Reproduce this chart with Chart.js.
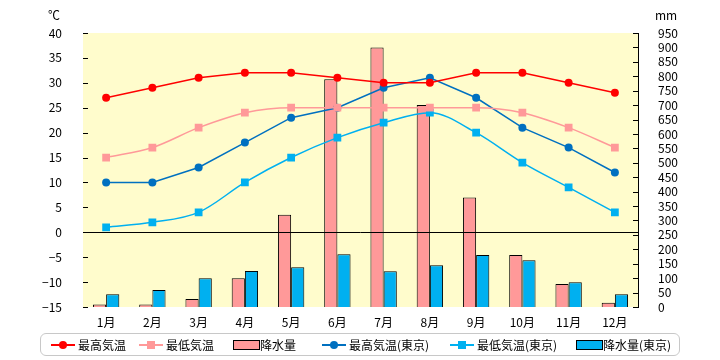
<!DOCTYPE html>
<html>
<head>
<meta charset="utf-8">
<script src="https://cdn.jsdelivr.net/npm/chart.js@4.4.1/dist/chart.umd.min.js"></script>
<style>
  body { margin: 0; background: #fff; font-family: "Noto Sans CJK JP", sans-serif; }
  #wrap { position: relative; width: 720px; height: 360px; }
  .unit { position: absolute; top: 6px; font-size: 12px; color: #000; }
  #legend { position: absolute; left: 40px; top: 333px; width: 640px; height: 23px;
            border: 1.5px solid #c8c8c8; border-radius: 6px; box-sizing: border-box; }
  .item { position: absolute; top: 3px; height: 16px; font-size: 12px; line-height: 16px; white-space: nowrap; }
  .ln { position: absolute; top: 7px; width: 24px; height: 1.5px; }
  .mk { position: absolute; }
  .sw { position: absolute; top: 3px; height: 8px; border: 1px solid #000; }
  .tx { position: absolute; top: 0; }
</style>
</head>
<body>
<div id="wrap">
  <canvas id="chart" width="720" height="360"></canvas>
  <span class="unit" style="left:48px">℃</span>
  <span class="unit" style="left:655px">mm</span>
  <div id="legend"></div>
</div>
<script>
const months = ['1月', '2月', '3月', '4月', '5月', '6月', '7月', '8月', '9月', '10月', '11月', '12月'];
const maxTemp = [27, 29, 31, 32, 32, 31, 30, 30, 32, 32, 30, 28];
const minTemp = [15, 17, 21, 24, 25, 25, 25, 25, 25, 24, 21, 17];
const precip = [9, 9, 28, 100, 320, 790, 900, 700, 380, 180, 80, 15];
const tokyoMax = [10, 10, 13, 18, 23, 25, 29, 31, 27, 21, 17, 12];
const tokyoMin = [1, 2, 4, 10, 15, 19, 22, 24, 20, 14, 9, 4];
const tokyoPrecip = [44, 59, 100, 125, 138, 183, 124, 145, 180, 162, 86, 44];

const FONT = { family: '"Noto Sans CJK JP", sans-serif', size: 12 };

// plot background, zero line and inward tick marks
const decor = {
    id: 'decor',
    beforeDatasetsDraw(chart) {
        const { ctx, chartArea: a } = chart;
        ctx.save();
        ctx.fillStyle = '#FFFCCC';
        ctx.fillRect(a.left, a.top, a.right - a.left, a.bottom - a.top);
        ctx.restore();
    },
    afterDatasetsDraw(chart) {
        const { ctx, chartArea: a, scales } = chart;
        ctx.save();
        ctx.strokeStyle = '#000';
        ctx.lineWidth = 1;
        ctx.beginPath();
        scales.y.ticks.forEach(t => {
            const py = Math.round(scales.y.getPixelForValue(t.value)) + 0.5;
            ctx.moveTo(a.left, py); ctx.lineTo(a.left + 5, py);
        });
        scales.y2.ticks.forEach(t => {
            const py = Math.round(scales.y2.getPixelForValue(t.value)) + 0.5;
            ctx.moveTo(a.right, py); ctx.lineTo(a.right - 5, py);
        });
        const z = Math.round(scales.y.getPixelForValue(0)) + 0.5;
        ctx.moveTo(a.left, z); ctx.lineTo(a.right, z);
        ctx.stroke();
        ctx.restore();
    }
};

function lineSet(label, data, color, style, radius, smooth) {
    return {
        type: 'line', label, data, yAxisID: 'y', order: 1,
        borderColor: color, backgroundColor: color, borderWidth: 1.5,
        pointStyle: style, pointRadius: radius, pointBorderWidth: 0,
        cubicInterpolationMode: smooth ? 'monotone' : 'default',
        tension: 0
    };
}

new Chart(document.getElementById('chart'), {
    data: {
        labels: months,
        datasets: [
            lineSet('最高気温', maxTemp, '#FF0000', 'circle', 4, false),
            lineSet('最低気温', minTemp, '#FF9999', 'rect', 5.5, true),
            { type: 'bar', label: '降水量', data: precip, yAxisID: 'y2', order: 2,
              backgroundColor: '#FF9999', borderColor: '#000', borderWidth: 1,
              barPercentage: 1, categoryPercentage: 0.57 },
            lineSet('最高気温(東京)', tokyoMax, '#0070C0', 'circle', 4, false),
            lineSet('最低気温(東京)', tokyoMin, '#00B0F0', 'rect', 5.5, true),
            { type: 'bar', label: '降水量(東京)', data: tokyoPrecip, yAxisID: 'y2', order: 2,
              backgroundColor: '#00B0F0', borderColor: '#000', borderWidth: 1,
              barPercentage: 1, categoryPercentage: 0.57 }
        ]
    },
    options: {
        responsive: false,
        animation: false,
        layout: { padding: { top: 33, bottom: 28, left: 0, right: 0 } },
        plugins: { legend: { display: false }, tooltip: { enabled: false } },
        scales: {
            x: {
                grid: { display: false },
                border: { display: false },
                ticks: { color: '#000', font: FONT, padding: 0 },
                afterFit: s => { s.height = 25; }
            },
            y: {
                position: 'left', min: -15, max: 40,
                grid: { display: false },
                border: { color: '#000', width: 1 },
                ticks: { stepSize: 5, color: '#000', font: FONT, padding: 13,
                         callback: v => String(v).replace('-', '\u2212') },
                afterFit: s => { s.width = 83; }
            },
            y2: {
                position: 'right', min: 0, max: 950,
                grid: { display: false },
                border: { color: '#000', width: 1 },
                ticks: { stepSize: 50, color: '#000', font: FONT, padding: 12, autoSkip: false },
                afterFit: s => { s.width = 82; }
            }
        }
    },
    plugins: [decor]
});

// HTML legend
const legendItems = [
    { kind: 'line', color: '#FF0000', marker: 'circle', x: 10, text: '最高気温' },
    { kind: 'line', color: '#FF9999', marker: 'rect', x: 98, text: '最低気温' },
    { kind: 'bar', color: '#FF9999', x: 192, text: '降水量' },
    { kind: 'line', color: '#0070C0', marker: 'circle', x: 281, text: '最高気温(東京)' },
    { kind: 'line', color: '#00B0F0', marker: 'rect', x: 409, text: '最低気温(東京)' },
    { kind: 'bar', color: '#00B0F0', x: 535, text: '降水量(東京)' }
];
document.getElementById('legend').innerHTML = legendItems.map(it => {
    let sym;
    if (it.kind === 'line') {
        const m = it.marker === 'circle'
            ? `<span class="mk" style="left:8px;top:4px;width:8px;height:8px;border-radius:50%;background:${it.color}"></span>`
            : `<span class="mk" style="left:8px;top:4px;width:8px;height:8px;background:${it.color}"></span>`;
        sym = `<span class="ln" style="left:0;background:${it.color}"></span>${m}`;
    } else {
        sym = `<span class="sw" style="left:0;width:25px;background:${it.color}"></span>`;
    }
    return `<div class="item" style="left:${it.x}px">${sym}<span class="tx" style="left:27px">${it.text}</span></div>`;
}).join('');
</script>
</body>
</html>
